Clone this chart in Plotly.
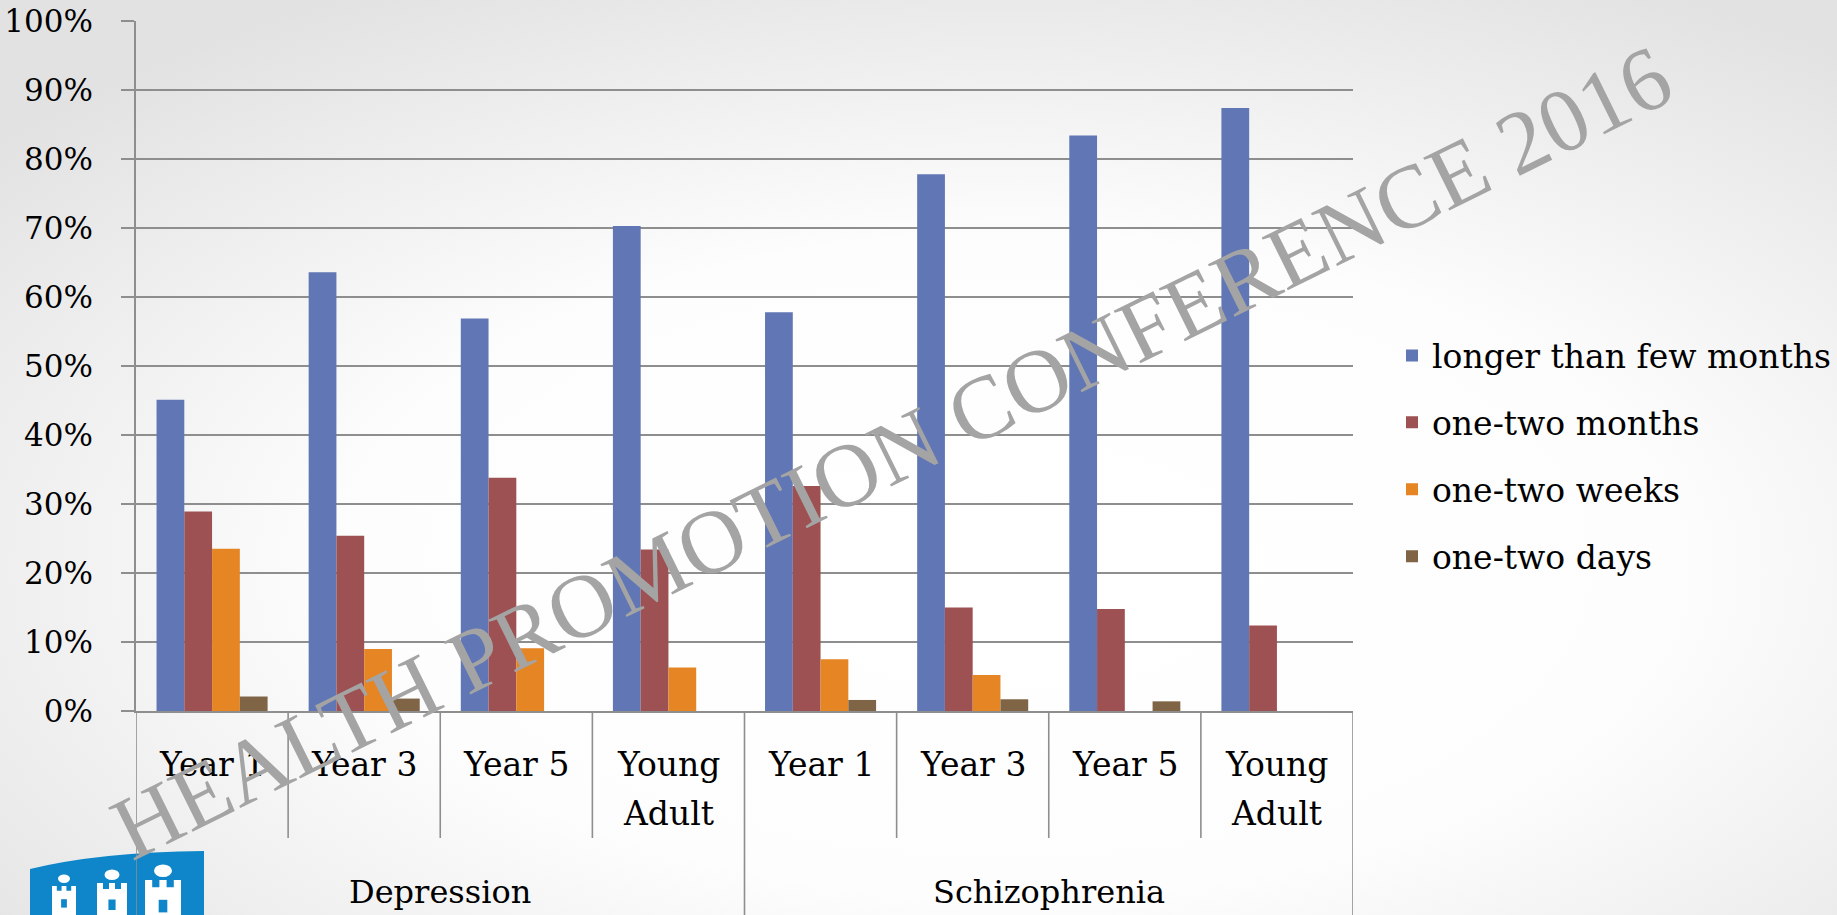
import base64
import plotly.graph_objects as go

# ---- data -------------------------------------------------------------
groups = ["Depression", "Schizophrenia"]
periods = ["Year 1", "Year 3", "Year 5", "Young<br>Adult"]
series_names = ["longer than few months", "one-two months",
                "one-two weeks", "one-two days"]

longer_than_few_months = [45.1, 63.6, 56.9, 70.3, 57.8, 77.8, 83.4, 87.4]
one_two_months = [28.9, 25.4, 33.8, 23.4, 32.6, 15.0, 14.8, 12.4]
one_two_weeks = [23.5, 9.0, 9.1, 6.3, 7.5, 5.2, 0.0, 0.0]
one_two_days = [2.1, 1.8, 0.0, 0.0, 1.6, 1.7, 1.4, 0.0]

series_values = [longer_than_few_months, one_two_months, one_two_weeks, one_two_days]
series_colors = ["#6176B4", "#9D5153", "#E58524", "#7F6446"]

y_ticks = list(range(0, 101, 10))

# ---- geometry ---------------------------------------------------------
W, H = 1837, 915
L, R, T, B = 136, 1353, 21, 711          # plot area in page pixels
PW, PH = R - L, B - T


def px(x):
    return (x - L) / PW


def py(y):
    return (B - y) / PH


tick_labels = periods * len(groups)
positions = list(range(len(tick_labels)))
n_per_group = len(periods)

FONT = "DejaVu Serif"
GRID = "#8e8e8e"

fig = go.Figure()
for name, vals, col in zip(series_names, series_values, series_colors):
    fig.add_trace(go.Bar(
        x=positions, y=vals, name=name, legendgroup=name,
        marker=dict(color=col, line=dict(width=0)),
    ))

# ---- background ---------------------------------------------------------
svg = (
    f"<svg xmlns='http://www.w3.org/2000/svg' width='{W}' height='{H}'>"
    "<defs><radialGradient id='g' cx='0.55' cy='0.62' r='0.72'>"
    "<stop offset='0' stop-color='#ffffff'/>"
    "<stop offset='0.5' stop-color='#fdfdfd'/>"
    "<stop offset='1' stop-color='#e2e2e2'/>"
    "</radialGradient></defs>"
    f"<rect width='{W}' height='{H}' fill='url(#g)'/></svg>"
)
bg_src = "data:image/svg+xml;base64," + base64.b64encode(svg.encode()).decode()

shapes = []
# category boundaries below the axis
for i in range(len(tick_labels) + 1):
    xb = i - 0.5
    outer = (i % n_per_group == 0)
    shapes.append(dict(
        type="line", xref="x", yref="paper", x0=xb, x1=xb,
        y0=0, y1=py(H + 2) if outer else py(838),
        line=dict(color=GRID, width=1.6), layer="above",
    ))

# logo in the lower left corner
blue = "#0E86C9"
shapes.append(dict(
    type="path", xref="paper", yref="paper", layer="below",
    path=(f"M {px(30)},{py(916)} L {px(30)},{py(869)} "
          f"Q {px(100)},{py(852)} {px(204)},{py(851)} "
          f"L {px(204)},{py(916)} Z"),
    fillcolor=blue, line=dict(width=0),
))
for cx, top, w in [(64, 886, 24), (112, 883, 30), (163, 880, 36)]:
    bw = w
    body_top = top + w * 0.35
    m = w / 5.0
    path = (f"M {px(cx - bw/2)},{py(916)} L {px(cx - bw/2)},{py(top)} "
            f"L {px(cx - bw/2 + m)},{py(top)} L {px(cx - bw/2 + m)},{py(top + m)} "
            f"L {px(cx - m/2)},{py(top + m)} L {px(cx - m/2)},{py(top)} "
            f"L {px(cx + m/2)},{py(top)} L {px(cx + m/2)},{py(top + m)} "
            f"L {px(cx + bw/2 - m)},{py(top + m)} L {px(cx + bw/2 - m)},{py(top)} "
            f"L {px(cx + bw/2)},{py(top)} L {px(cx + bw/2)},{py(916)} Z")
    shapes.append(dict(type="path", xref="paper", yref="paper", layer="below",
                       path=path, fillcolor="white", line=dict(width=0)))
    shapes.append(dict(type="rect", xref="paper", yref="paper", layer="below",
                       x0=px(cx - w * 0.12), x1=px(cx + w * 0.12),
                       y0=py(body_top + w * 0.55), y1=py(body_top + w * 0.2),
                       fillcolor=blue, line=dict(width=0)))
    # small flame on each tower
    shapes.append(dict(type="circle", xref="paper", yref="paper", layer="below",
                       x0=px(cx - w * 0.25), x1=px(cx + w * 0.25),
                       y0=py(top - 3), y1=py(top - 3 - w * 0.35),
                       fillcolor="white", line=dict(width=0)))

annotations = []
# category labels, one annotation per text line
for pos, lab in zip(positions, tick_labels):
    for k, line in enumerate(lab.split("<br>")):
        annotations.append(dict(
            x=pos, xref="x", y=py(764 + 49 * k), yref="paper",
            text=line, showarrow=False,
            font=dict(family=FONT, size=33, color="black"),
            xanchor="center", yanchor="middle",
        ))
# group labels
for gi, g in enumerate(groups):
    annotations.append(dict(
        x=gi * n_per_group + (n_per_group - 1) / 2, xref="x",
        y=py(892), yref="paper", text=g, showarrow=False,
        font=dict(family=FONT, size=32, color="black"),
        xanchor="center", yanchor="middle",
    ))

annotations.append(dict(
    x=px(891), y=py(452), xref="paper", yref="paper",
    text="HEALTH PROMOTION CONFERENCE 2016", showarrow=False,
    textangle=-26.3, xanchor="center", yanchor="middle",
    font=dict(family="Liberation Serif", size=90, color="#a4a4a4"),
))

fig.update_layout(
    width=W, height=H,
    margin=dict(l=L, r=W - R, t=T, b=H - B, pad=0, autoexpand=False),
    paper_bgcolor="white",
    plot_bgcolor="rgba(0,0,0,0)",
    barmode="group", bargap=0.27, bargroupgap=0,
    font=dict(family=FONT, size=32, color="black"),
    showlegend=True,
    legend=dict(
        x=px(1392), y=py(456), xanchor="left", yanchor="middle",
        font=dict(family=FONT, size=33, color="black"),
        bgcolor="rgba(0,0,0,0)", traceorder="grouped",
        tracegroupgap=21,
    ),
    xaxis=dict(
        range=[-0.5, len(tick_labels) - 0.5],
        tickmode="array", tickvals=positions, showticklabels=False,
        ticks="", showgrid=False, zeroline=False, automargin=False,
        showline=True, linecolor=GRID, linewidth=1.6,
    ),
    yaxis=dict(
        range=[0, 100], tickmode="array", tickvals=y_ticks,
        ticktext=[f"{v}%" for v in y_ticks],
        showgrid=True, gridcolor=GRID, gridwidth=1.6, automargin=False,
        zeroline=False, showline=True, linecolor=GRID, linewidth=1.6,
        ticks="outside", ticklen=13, tickcolor=GRID, tickwidth=1.6,
        tickfont=dict(family=FONT, size=31, color="black"),
        ticklabelstandoff=22,
    ),
    shapes=shapes,
    annotations=annotations,
    images=[dict(
        source=bg_src, xref="paper", yref="paper",
        x=px(0), y=py(0), sizex=W / PW, sizey=H / PH,
        xanchor="left", yanchor="top", sizing="stretch", layer="below",
    )],
)

fig.write_html("out.html")
